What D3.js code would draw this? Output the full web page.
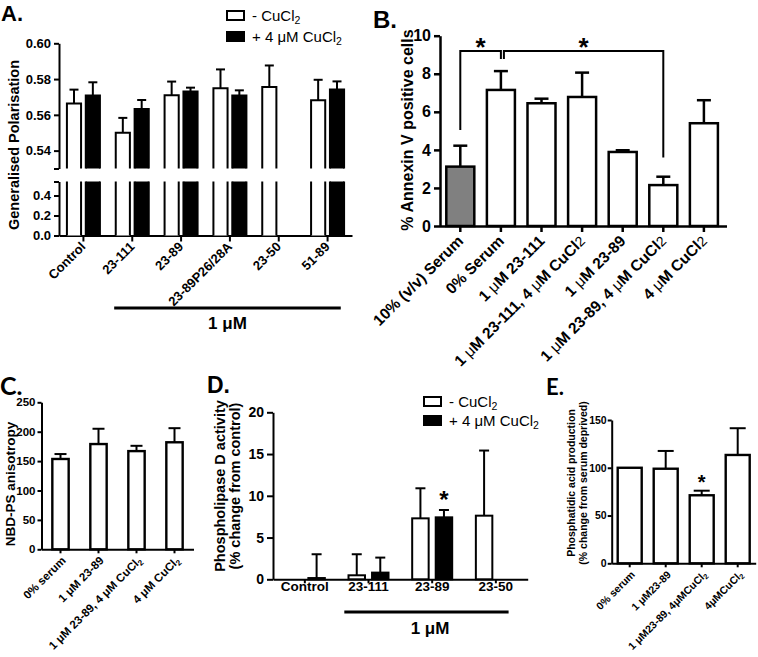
<!DOCTYPE html>
<html><head><meta charset="utf-8">
<script src="https://cdn.jsdelivr.net/npm/d3@7"></script>
<style>body{margin:0;background:#fff;} svg{display:block;}</style>
</head><body>
<script>
// ---------------- DATA ----------------
// Panel A: Generalised Polarisation
const aCategories = ["Control", "23-111", "23-89", "23-89P26/28A", "23-50", "51-89"];
const aNoCu    = [0.5664, 0.5500, 0.5710, 0.5748, 0.5756, 0.5682];
const aNoCuErr = [0.0077, 0.0083, 0.0076, 0.0106, 0.0120, 0.0114];
const aCu      = [0.5708, 0.5633, 0.5730, 0.5708, null, 0.5741];
const aCuErr   = [0.0074, 0.0050, 0.0022, 0.0029, null, 0.0046];
const aTicksUpper = [0.54, 0.56, 0.58, 0.60];
const aTicksLower = [0.0, 0.2, 0.4];
const aBreak = [0.53, 0.54]; // upper segment bottom, lower segment top

// Panel B: % Annexin V positive cells
const bCategories = ["10% (v/v) Serum", "0% Serum", "1 μM 23-111", "1 μM 23-111, 4 μM CuCl2", "1 μM 23-89", "1 μM 23-89, 4 μM CuCl2", "4 μM CuCl2"];
const bValues = [3.12, 7.15, 6.45, 6.78, 3.89, 2.15, 5.40];
const bErr    = [1.10, 0.99, 0.24, 1.28, 0.09, 0.44, 1.21];
const bTicks  = [0, 2, 4, 6, 8, 10];
// significance brackets: [from index, to index, left foot value, right foot value, top value]
const bSig = [[0, 1, 5.05, 8.78, 9.2], [1, 5, 8.78, 3.6, 9.2]];

// Panel C: NBD-PS anisotropy
const cCategories = ["0% serum", "1 μM 23-89", "1 μM 23-89, 4 μM CuCl2", "4 μM CuCl2"];
const cValues = [153.6, 179, 167, 182];
const cErr    = [8.4, 26, 9, 24];
const cTicks  = [0, 50, 100, 150, 200, 250];

// Panel D: Phospholipase D activity
const dCategories = ["Control", "23-111", "23-89", "23-50"];
const dNoCu    = [0, 0.48, 7.30, 7.62];
const dNoCuErr = [0, 2.52, 3.60, 7.80];
const dCu      = [0.15, 0.80, 7.42, null];
const dCuErr   = [2.85, 1.80, 0.88, null];
const dTicks   = [0, 5, 10, 15, 20];
const dStars   = ["23-89"];

// Panel E: Phosphatidic acid production
const eCategories = ["0% serum", "1 μM23-89", "1 μM23-89, 4μMCuCl2", "4μMCuCl2"];
const eValues = [100, 99, 71.2, 113.4];
const eErr    = [0, 18.6, 4.8, 28.0];
const eTicks  = [0, 50, 100, 150];
const eStars  = ["1 μM23-89, 4μMCuCl2"];

const legendLabels = ["- CuCl2", "+ 4 μM CuCl2"];

// ---------------- HELPERS ----------------
const FONT = '"Liberation Sans", Arial, Helvetica, sans-serif';
const FONT2 = 'Lato, "Open Sans", sans-serif';
const svg = d3.select("body").append("svg").attr("width", 758).attr("height", 657)
  .attr("font-family", FONT);

function rich(t, str, o = {}) {
  const parts = str.split(/(μ|CuCl2)/).filter(s => s !== "");
  parts.forEach(p => {
    if (p === "μ") {
      const s = t.append("tspan").text("μ");
      if (o.muWeight) s.attr("font-weight", o.muWeight);
    } else if (p === "CuCl2") {
      t.append("tspan").text("CuCl");
      const s = t.append("tspan").text("2");
      if (o.flat2) s.attr("font-weight", "normal").attr("font-size", o.flat2);
      else s.attr("font-size", "0.7em").attr("dy", "0.3em");
    } else t.append("tspan").text(p);
  });
}

function styleAxis(g, fs, fw, sw) {
  g.attr("font-family", FONT).attr("font-size", fs);
  g.select(".domain").attr("stroke", "#000").attr("stroke-width", sw);
  g.selectAll(".tick line").attr("stroke", "#000").attr("stroke-width", sw);
  g.selectAll(".tick text").attr("fill", "#000").attr("font-weight", fw);
}

function errBar(g, cx, y0, y1, cw, sw) {
  g.append("line").attr("x1", cx).attr("x2", cx).attr("y1", y0).attr("y2", y1)
    .attr("stroke", "#000").attr("stroke-width", sw);
  g.append("line").attr("x1", cx - cw / 2).attr("x2", cx + cw / 2).attr("y1", y1).attr("y2", y1)
    .attr("stroke", "#000").attr("stroke-width", sw);
}

function rotLabels(g, cats, x, axisY, dx, dy, fs, fw, o) {
  cats.forEach(c => {
    const t = g.append("text")
      .attr("transform", `translate(${x(c) + x.bandwidth() / 2 + dx},${axisY + dy}) rotate(-45)`)
      .attr("text-anchor", "end").attr("font-size", fs).attr("font-weight", fw);
    rich(t, c, o);
  });
}

function yTitle(g, lines, cx, cy, fs, lh) {
  lines.forEach((l, i) => {
    g.append("text").attr("transform", `translate(${cx + i * lh},${cy}) rotate(-90)`)
      .attr("text-anchor", "middle").attr("font-size", fs).attr("font-weight", "bold").text(l);
  });
}

function legend(g, x, y1, y2, fs) {
  [["white", y1], ["black", y2]].forEach(([f, y], i) => {
    g.append("rect").attr("x", x).attr("y", y).attr("width", 17).attr("height", 9)
      .attr("fill", f).attr("stroke", "#000").attr("stroke-width", 2);
    const t = g.append("text").attr("x", x + 25).attr("y", y + 10).attr("font-size", fs);
    rich(t, legendLabels[i], {});
  });
}

// ---------------- PANEL A ----------------
{
  const g = svg.append("g");
  g.append("text").attr("x", 1).attr("y", 21).attr("font-size", 22).attr("font-weight", "bold").text("A.");
  const axX = 59, axY = 235.5;
  const x0 = d3.scaleBand().domain(aCategories).range([axX, axX + 293]);
  const x1 = d3.scaleBand().domain(["noCu", "cu"]).range([-16.5, 16.5]).paddingInner(0.25);
  const yU = d3.scaleLinear().domain([aBreak[0], 0.60]).range([168.5, 43.3]);
  const yL = d3.scaleLinear().domain([0, aBreak[1]]).range([axY, 181.5]);

  const gu = g.append("g").attr("transform", `translate(${axX},0)`)
    .call(d3.axisLeft(yU).tickValues([aBreak[0], ...aTicksUpper]).tickSize(5).tickSizeOuter(0).tickPadding(3)
      .tickFormat(d => d === aBreak[0] ? "" : d3.format(".2f")(d)));
  styleAxis(gu, 13, "bold", 2);
  const gl = g.append("g").attr("transform", `translate(${axX},0)`)
    .call(d3.axisLeft(yL).tickValues([...aTicksLower, aBreak[1]]).tickSize(5).tickSizeOuter(0).tickPadding(3)
      .tickFormat(d => d === aBreak[1] ? "" : d3.format(".1f")(d)));
  styleAxis(gl, 13, "bold", 2);
  const gx = g.append("g").attr("transform", `translate(0,${axY})`)
    .call(d3.axisBottom(x0).tickSize(6).tickSizeOuter(0).tickFormat(""));
  styleAxis(gx, 12, "bold", 2);

  const series = [["noCu", aNoCu, aNoCuErr, "white"], ["cu", aCu, aCuErr, "black"]];
  aCategories.forEach((c, i) => {
    const cx = x0(c) + x0.bandwidth() / 2;
    series.forEach(([k, vals, errs, fill]) => {
      const v = vals[i]; if (v == null) return;
      const bx = cx + x1(k), w = x1.bandwidth();
      g.append("rect").attr("x", bx).attr("y", yU(v)).attr("width", w).attr("height", yU(aBreak[0]) - yU(v)).attr("fill", fill);
      g.append("rect").attr("x", bx).attr("y", yL(aBreak[1])).attr("width", w).attr("height", yL(0) - yL(aBreak[1])).attr("fill", fill);
      g.append("path").attr("d", `M${bx},${yU(aBreak[0])}V${yU(v)}H${bx + w}V${yU(aBreak[0])}M${bx},${yL(aBreak[1])}V${yL(0)}M${bx + w},${yL(0)}V${yL(aBreak[1])}`)
        .attr("fill", "none").attr("stroke", "#000").attr("stroke-width", 2);
      errBar(g, bx + w / 2, yU(v), yU(v + errs[i]), 9, 2);
    });
  });
  rotLabels(g, aCategories, x0, axY, 3, 12, 13, "bold", {});
  const lx1 = x0("23-111") + 0.13 * x0.bandwidth(), lx2 = x0("51-89") + 0.77 * x0.bandwidth();
  g.append("line").attr("x1", lx1).attr("x2", lx2).attr("y1", 308).attr("y2", 308).attr("stroke", "#000").attr("stroke-width", 3);
  g.append("text").attr("x", (lx1 + lx2) / 2).attr("y", 329).attr("text-anchor", "middle").attr("font-size", 17).attr("font-weight", "bold").text("1 μM");
  yTitle(g, ["Generalised Polarisation"], 19, 145, 14.5, 0);
  legend(g, 227, 11, 32, 15);
}

// ---------------- PANEL B ----------------
{
  const g = svg.append("g");
  g.append("text").attr("x", 373).attr("y", 28).attr("font-size", 24).attr("font-weight", "bold").text("B.");
  const axX = 440, axY = 226;
  const x = d3.scaleBand().domain(bCategories).range([axX, axX + 284.2]).paddingInner(0.31).paddingOuter(0.155);
  const y = d3.scaleLinear().domain([0, 10]).range([axY, 35.7]);
  const gy = g.append("g").attr("transform", `translate(${axX},0)`)
    .call(d3.axisLeft(y).tickValues(bTicks).tickSize(6).tickSizeOuter(0).tickPadding(3));
  styleAxis(gy, 16, "bold", 2.5);
  const gx = g.append("g").attr("transform", `translate(0,${axY})`)
    .call(d3.axisBottom(x).tickSize(6).tickSizeOuter(0).tickFormat(""));
  styleAxis(gx, 12, "bold", 2.5);
  gx.select(".domain").attr("d", `M${axX},0.5H${axX + 287}`);
  bCategories.forEach((c, i) => {
    const bx = x(c), w = x.bandwidth();
    g.append("rect").attr("x", bx).attr("y", y(bValues[i])).attr("width", w).attr("height", y(0) - y(bValues[i]))
      .attr("fill", i === 0 ? "#808080" : "white").attr("stroke", "#000").attr("stroke-width", 2.5);
    errBar(g, bx + w / 2, y(bValues[i]), y(bValues[i] + bErr[i]), 14, 2.5);
  });
  bSig.forEach(([a, b, fa, fb, top], k) => {
    const xa = x(bCategories[a]) + x.bandwidth() / 2 + (k === 1 ? 3 : 0);
    const xb = x(bCategories[b]) + x.bandwidth() / 2;
    g.append("path").attr("d", `M${xa},${y(fa)}V${y(top)}H${xb}V${y(fb)}`)
      .attr("fill", "none").attr("stroke", "#000").attr("stroke-width", 2);
    g.append("text").attr("x", (xa + xb) / 2).attr("y", 56).attr("text-anchor", "middle")
      .attr("font-size", 26).attr("font-weight", "bold").text("*");
  });
  rotLabels(g, bCategories, x, axY, 4, 16, 15.5, "bold", { muWeight: "normal", flat2: "0.9em" });
  yTitle(g, ["% Annexin V positive cells"], 413, 130, 16, 0);
}

// ---------------- PANEL C ----------------
{
  const g = svg.append("g");
  g.append("text").attr("x", 0).attr("y", 395).attr("font-family", FONT2).attr("font-size", 25).attr("font-weight", "bold").text("C.");
  const axX = 41.5, axY = 549.3;
  const x = d3.scaleBand().domain(cCategories).range([axX, axX + 152]).paddingInner(0.57).paddingOuter(0.285);
  const y = d3.scaleLinear().domain([0, 250]).range([axY, 402.3]);
  const gy = g.append("g").attr("transform", `translate(${axX},0)`)
    .call(d3.axisLeft(y).tickValues(cTicks).tickSize(4).tickSizeOuter(0).tickPadding(2));
  styleAxis(gy, 11.5, "bold", 2);
  const gx = g.append("g").attr("transform", `translate(0,${axY})`)
    .call(d3.axisBottom(x).tickSize(4).tickSizeOuter(0).tickFormat(""));
  styleAxis(gx, 11, "normal", 2);
  cCategories.forEach((c, i) => {
    const bx = x(c), w = x.bandwidth();
    g.append("rect").attr("x", bx).attr("y", y(cValues[i])).attr("width", w).attr("height", y(0) - y(cValues[i]))
      .attr("fill", "white").attr("stroke", "#000").attr("stroke-width", 2.4);
    errBar(g, bx + w / 2, y(cValues[i]), y(cValues[i] + cErr[i]), 12, 2);
  });
  rotLabels(g, cCategories, x, axY, 6, 12, 11.5, "bold", {});
  yTitle(g, ["NBD-PS anisotropy"], 15, 484, 13.5, 0);
}

// ---------------- PANEL D ----------------
{
  const g = svg.append("g");
  g.append("text").attr("x", 207).attr("y", 393).attr("font-size", 23).attr("font-weight", "bold").text("D.");
  const axX = 273, axY = 579.3;
  const x0 = d3.scaleBand().domain(dCategories).range([axX, axX + 254.7]);
  const x1 = d3.scaleBand().domain(["noCu", "cu"]).range([-20, 20]).paddingInner(0.3);
  const y = d3.scaleLinear().domain([0, 20]).range([axY, 412.3]);
  const gy = g.append("g").attr("transform", `translate(${axX},0)`)
    .call(d3.axisLeft(y).tickValues(dTicks).tickSize(6).tickSizeOuter(0).tickPadding(3));
  styleAxis(gy, 14, "bold", 2);
  const gx = g.append("g").attr("transform", `translate(0,${axY})`)
    .call(d3.axisBottom(x0).tickSize(4).tickSizeOuter(0).tickPadding(-2));
  styleAxis(gx, 13.5, "bold", 2);
  const series = [["noCu", dNoCu, dNoCuErr, "white"], ["cu", dCu, dCuErr, "black"]];
  dCategories.forEach((c, i) => {
    const cx = x0(c) + x0.bandwidth() / 2;
    series.forEach(([k, vals, errs, fill]) => {
      const v = vals[i]; if (v == null) return;
      const bx = cx + x1(k), w = x1.bandwidth();
      if (v > 0) g.append("rect").attr("x", bx).attr("y", y(v)).attr("width", w).attr("height", y(0) - y(v))
        .attr("fill", fill).attr("stroke", "#000").attr("stroke-width", 2);
      if (errs[i] > 0) errBar(g, bx + w / 2, y(v), y(v + errs[i]), 10, 2);
      if (k === "cu" && dStars.includes(c))
        g.append("text").attr("x", bx + w / 2).attr("y", y(v + errs[i]) - 2).attr("text-anchor", "middle")
          .attr("font-size", 24).attr("font-weight", "bold").text("*");
    });
  });
  const lx1 = x0("23-111") + 0.12 * x0.bandwidth(), lx2 = x0("23-50") + 0.7 * x0.bandwidth();
  g.append("line").attr("x1", lx1).attr("x2", lx2).attr("y1", 612).attr("y2", 612).attr("stroke", "#000").attr("stroke-width", 3);
  g.append("text").attr("x", 430).attr("y", 634).attr("text-anchor", "middle").attr("font-size", 17).attr("font-weight", "bold").text("1 μM");
  yTitle(g, ["Phospholipase D activity", "(% change from control)"], 225, 486, 14.5, 15);
  legend(g, 424, 397, 416, 15);
}

// ---------------- PANEL E ----------------
{
  const g = svg.append("g");
  g.append("text").attr("x", 546).attr("y", 395).attr("font-family", FONT2).attr("font-size", 22).attr("font-weight", "bold").text("E.");
  const axX = 611.7, axY = 563.3;
  const x = d3.scaleBand().domain(eCategories).range([axX, axX + 144]).paddingInner(1 / 3).paddingOuter(1 / 6);
  const y = d3.scaleLinear().domain([0, 150]).range([axY, 420]);
  const gy = g.append("g").attr("transform", `translate(${axX},0)`)
    .call(d3.axisLeft(y).tickValues(eTicks).tickSize(4).tickSizeOuter(0).tickPadding(1));
  styleAxis(gy, 10.5, "bold", 2);
  const gx = g.append("g").attr("transform", `translate(0,${axY})`)
    .call(d3.axisBottom(x).tickSize(4).tickSizeOuter(0).tickFormat(""));
  styleAxis(gx, 11, "normal", 2);
  eCategories.forEach((c, i) => {
    const bx = x(c), w = x.bandwidth();
    g.append("rect").attr("x", bx).attr("y", y(eValues[i])).attr("width", w).attr("height", y(0) - y(eValues[i]))
      .attr("fill", "white").attr("stroke", "#000").attr("stroke-width", 2.4);
    if (eErr[i] > 0) errBar(g, bx + w / 2, y(eValues[i]), y(eValues[i] + eErr[i]), 16, 2);
    if (eStars.includes(c))
      g.append("text").attr("x", bx + w / 2).attr("y", y(eValues[i] + eErr[i]) - 2).attr("text-anchor", "middle")
        .attr("font-size", 20).attr("font-weight", "bold").text("*");
  });
  rotLabels(g, eCategories, x, axY, 6, 12, 10.5, "bold", {});
  yTitle(g, ["Phosphatidic acid production", "(% change from serum deprived)"], 574.5, 483, 10.5, 12);
}
</script>
</body></html>
